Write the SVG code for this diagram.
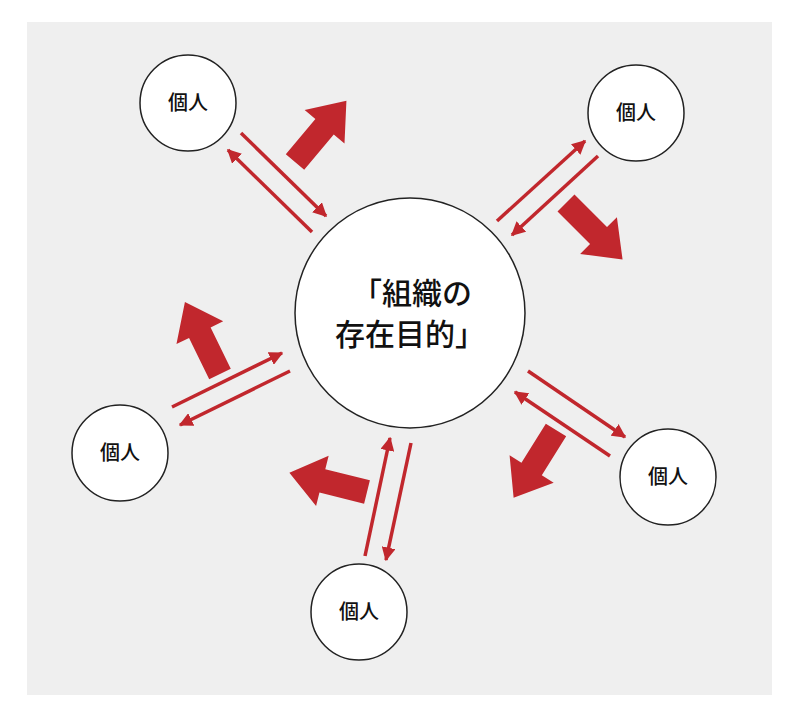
<svg xmlns="http://www.w3.org/2000/svg" width="800" height="720" viewBox="0 0 800 720">
<defs>
<marker id="ah" viewBox="0 0 10 10" refX="9" refY="5" markerWidth="4" markerHeight="4" orient="auto" markerUnits="strokeWidth"><path d="M0,0 L10,5 L0,10 z" fill="#c1272d"/></marker>
<polygon id="big" points="0,-12 46,-12 46,-26 80,0 46,26 46,12 0,12" fill="#c1272d"/>
</defs>
<style>
.n{fill:#fff;stroke:#222;stroke-width:1.5}
.t{font-family:"Noto Sans CJK JP","Noto Sans CJK SC",sans-serif;fill:#111;text-anchor:middle;font-weight:500}
.l{stroke:#c1272d;stroke-width:3.5;marker-end:url(#ah)}
</style>
<rect width="800" height="720" fill="#fff"/>
<rect x="27" y="22" width="745" height="673" fill="#efefef"/>
<g id="connectors">
<line class="l" x1="241" y1="133" x2="326" y2="216"/>
<line class="l" x1="312" y1="232" x2="228" y2="150"/>
<line class="l" x1="497" y1="221" x2="585" y2="141"/>
<line class="l" x1="598" y1="156" x2="512" y2="235"/>
<line class="l" x1="172" y1="407" x2="282" y2="353"/>
<line class="l" x1="290" y1="371" x2="180" y2="425"/>
<line class="l" x1="528" y1="371" x2="625" y2="437"/>
<line class="l" x1="610" y1="456" x2="515" y2="392"/>
<line class="l" x1="365" y1="556" x2="390" y2="438"/>
<line class="l" x1="411" y1="443" x2="386" y2="560"/>
<use href="#big" transform="translate(295,162) rotate(-50)"/>
<use href="#big" transform="translate(566,203) rotate(45)"/>
<use href="#big" transform="translate(220,374) rotate(-116)"/>
<use href="#big" transform="translate(556,430) rotate(122)"/>
<use href="#big" transform="translate(367,492) rotate(194)"/>
</g>
<g id="center"><circle class="n" cx="410" cy="313" r="115"/>
<text class="t" x="412" y="304" font-size="30">「組織の</text>
<text class="t" x="410" y="345" font-size="30">存在目的」</text></g>
<g id="p1"><circle class="n" cx="188" cy="103" r="48"/><text class="t" x="188" y="110" font-size="20">個人</text></g>
<g id="p2"><circle class="n" cx="636" cy="113" r="48"/><text class="t" x="636" y="120" font-size="20">個人</text></g>
<g id="p3"><circle class="n" cx="120" cy="453" r="48"/><text class="t" x="120" y="460" font-size="20">個人</text></g>
<g id="p4"><circle class="n" cx="668" cy="477" r="48"/><text class="t" x="668" y="484" font-size="20">個人</text></g>
<g id="p5"><circle class="n" cx="359" cy="612" r="48"/><text class="t" x="359" y="619" font-size="20">個人</text></g>
</svg>
